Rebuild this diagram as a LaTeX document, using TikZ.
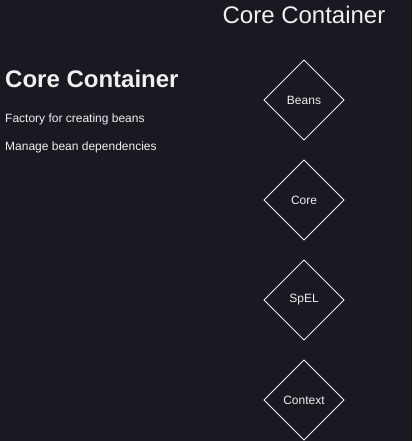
\documentclass[tikz,border=0pt]{standalone}
\usepackage{fontspec}
\setmainfont{Liberation Sans}
\usetikzlibrary{
positioning,
shapes.geometric,
}
\definecolor{bgdark}{RGB}{26,24,32}
\definecolor{inkwhite}{RGB}{240,240,240}
\tikzset{
node distance=20pt,
every node/.style={align=left, text=inkwhite},
title/.style={font=\fontsize{24}{28}\selectfont},
heading/.style={font=\bfseries\fontsize{24}{28}\selectfont, anchor=base west, inner sep=0pt},
note/.style={font=\fontsize{12}{14}\selectfont, anchor=base west, inner sep=0pt},
module/.style={diamond, draw=inkwhite, line width=0.9pt, inner sep=0pt, outer sep=0pt,
  minimum width=80pt, minimum height=80pt, font=\fontsize{12}{14}\selectfont},
}
\begin{document}
\begin{tikzpicture}[x=1pt, y=1pt]
\fill[bgdark] (0,0) rectangle (412,-441);
\useasboundingbox (0,0) rectangle (412,-441);
% left column
\node (head) [heading] at (5,-88) {Core Container};
\node (factory) [note] at (5,-122) {Factory for creating beans};
\node (deps) [note] at (5,-150) {Manage bean dependencies};
% right column
\node (title) [title] at (304,-15) {Core Container};
\node (beans) [module] at (304,-100) {Beans};
\node (core) [module, below=of beans] {Core};
\node (spel) [module, below=of core] {SpEL};
\node (context) [module, below=of spel] {Context};
\end{tikzpicture}
\end{document}
